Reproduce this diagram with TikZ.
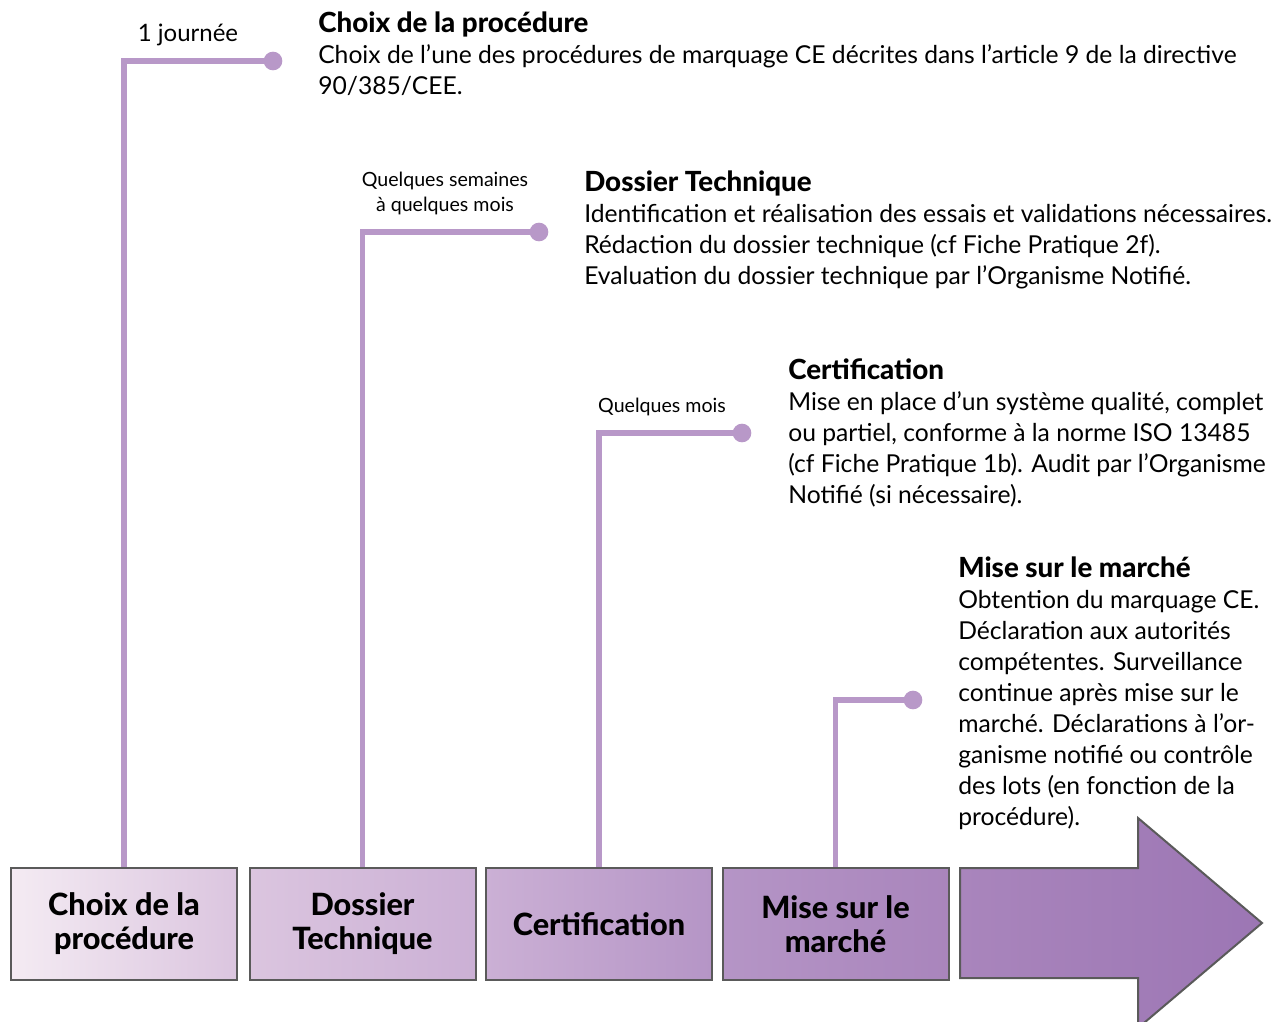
\documentclass[tikz,border=0pt]{standalone}
\usepackage{fontspec}
\setmainfont{Lato}[BoldFont={Lato Heavy}]
\usepackage{xcolor}
\usetikzlibrary{calc}
\definecolor{lilas}{HTML}{B898C8}
\definecolor{bord}{HTML}{5A5A5A}
\definecolor{mauveA}{HTML}{F4EBF3}
\definecolor{mauveB}{HTML}{DBC5DF}
\definecolor{mauveC}{HTML}{CBB0D5}
\definecolor{mauveD}{HTML}{B595C6}
\definecolor{mauveE}{HTML}{A985BC}
\definecolor{mauveF}{HTML}{9C76B4}
\newcommand{\titre}{\fontsize{20.8}{23.25}\selectfont\bfseries}
\tikzset{
	etape/.style={
			draw=bord, line width=1.5pt, minimum width=169.5pt, minimum height=84pt,
			align=center, inner sep=0pt,
			font=\fontsize{23}{25.5}\selectfont\bfseries
		},
	jalon/.style={draw=lilas, line width=3.8pt},
	duree/.style={align=center, inner sep=0pt, font=\fontsize{14.7}{18.75}\selectfont},
	texte/.style={anchor=north west, align=left, inner sep=0pt, font=\fontsize{18.5}{23.25}\selectfont}
}

\begin{document}
\begin{tikzpicture}[x=0.75pt,y=-0.75pt]
			\useasboundingbox (0,0) rectangle (1281,1021);
			% les quatre etapes
			\node[etape, shade, left color=mauveA, right color=mauveB] (choix) at (124,924) {Choix de la\\procédure};
			\node[etape, shade, left color=mauveB, right color=mauveC] (dossier) at (362.5,924) {Dossier\\Technique};
			\node[etape, shade, left color=mauveC, right color=mauveD] (certif) at (599,924) {Certification};
			\node[etape, shade, left color=mauveD, right color=mauveE] (marche) at (835.5,924) {Mise sur le\\marché};
			\draw[bord, line width=1.5pt, shade, left color=mauveE, right color=mauveF]
			(960,868) -- (1138,868) -- (1138,818) -- (1262,923) -- (1138,1028) -- (1138,978) -- (960,978) -- cycle;
			% jalons
			\coordinate (p1) at (273,61);
			\coordinate (p2) at (539,232);
			\coordinate (p3) at (742,433);
			\coordinate (p4) at (913,700);
			\draw[jalon] (choix.north) |- (p1);
			\draw[jalon] (dossier.north) |- (p2);
			\draw[jalon] (certif.north) |- (p3);
			\draw[jalon] (marche.north) |- (p4);
			\foreach \p in {p1,p2,p3,p4}
				\fill[lilas] (\p) circle (7pt);
			% durees
			\node[duree, font=\fontsize{18}{23.25}\selectfont] (d1) at (188,35) {1 journée};
			\node[duree] (d2) at (445,193) {Quelques semaines\\à quelques mois};
			\node[duree] (d3) at (662,407) {Quelques mois};
			% textes
			\node[texte] (t1) at (318,12) {{\titre Choix de la procédure}\\
				Choix de l’une des procédures de marquage CE décrites dans l’article 9 de la directive\\
				90/385/CEE.};
			\node[texte] (t2) at (584,171) {{\titre Dossier Technique}\\
				Identification et réalisation des essais et validations nécessaires.\\
				Rédaction du dossier technique (cf Fiche Pratique 2f).\\
				Evaluation du dossier technique par l’Organisme Notifié.};
			\node[texte] (t3) at (788,358) {{\titre Certification}\\
				Mise en place d’un système qualité, complet\\
				ou partiel, conforme à la norme ISO 13485\\
				(cf Fiche Pratique 1b). Audit par l’Organisme\\
				Notifié (si nécessaire).};
			\node[texte] (t4) at (958,557) {{\titre Mise sur le marché}\\
				Obtention du marquage CE.\\
				Déclaration aux autorités\\
				compétentes. Surveillance\\
				continue après mise sur le\\
				marché. Déclarations à l’or-\\
				ganisme notifié ou contrôle\\
				des lots (en fonction de la\\
				procédure).};
		\end{tikzpicture}
\end{document}
